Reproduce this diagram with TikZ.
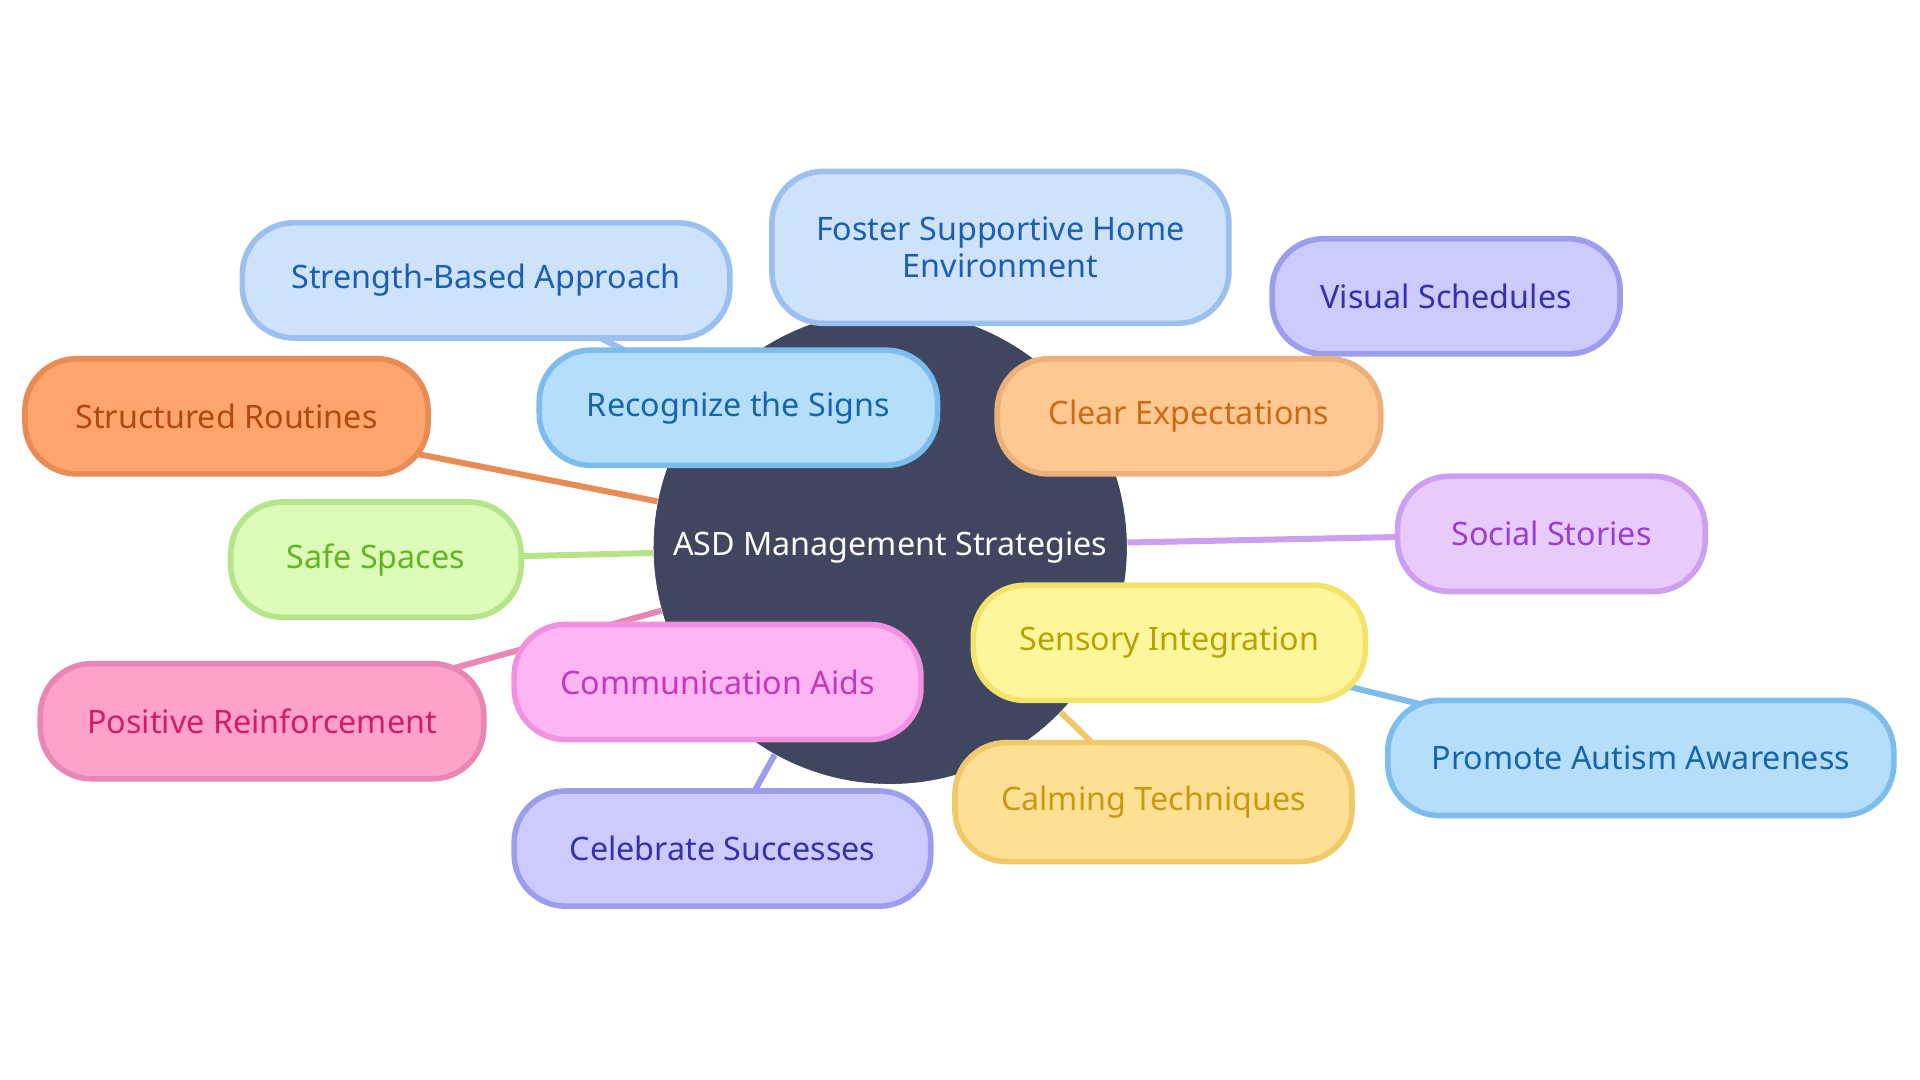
\documentclass[tikz,border=0pt]{standalone}
\usepackage{fontspec}
\setmainfont{Noto Sans}
\usetikzlibrary{shapes.geometric}

\definecolor{hubfill}{HTML}{404560}
\definecolor{blueA}{HTML}{CFE2FB}\definecolor{blueAd}{HTML}{9BBFEF}\definecolor{blueAt}{HTML}{1A5FB4}
\definecolor{blueB}{HTML}{B5DEFD}\definecolor{blueBd}{HTML}{7DBDEE}\definecolor{blueBt}{HTML}{1565A8}
\definecolor{violA}{HTML}{CBCBFD}\definecolor{violAd}{HTML}{9D9DED}\definecolor{violAt}{HTML}{3431B0}
\definecolor{orA}{HTML}{FEA46D}\definecolor{orAd}{HTML}{E98B55}\definecolor{orAt}{HTML}{B04A10}
\definecolor{orB}{HTML}{FEC891}\definecolor{orBd}{HTML}{EEB07A}\definecolor{orBt}{HTML}{CC6A1A}
\definecolor{grA}{HTML}{DCFAB8}\definecolor{grAd}{HTML}{B5E588}\definecolor{grAt}{HTML}{62B51E}
\definecolor{puA}{HTML}{E7CBFD}\definecolor{puAd}{HTML}{CCA0EE}\definecolor{puAt}{HTML}{9B3DD0}
\definecolor{yeA}{HTML}{FFF59D}\definecolor{yeAd}{HTML}{F2E46A}\definecolor{yeAt}{HTML}{B7A400}
\definecolor{piA}{HTML}{FDB6F3}\definecolor{piAd}{HTML}{F191E2}\definecolor{piAt}{HTML}{C23AB8}
\definecolor{piB}{HTML}{FEA2CC}\definecolor{piBd}{HTML}{E887B4}\definecolor{piBt}{HTML}{D11C6A}
\definecolor{goA}{HTML}{FEDF93}\definecolor{goAd}{HTML}{F0C96A}\definecolor{goAt}{HTML}{C79A10}

\tikzset{
  hubnode/.style={circle, fill=hubfill, text=white, minimum size=3.86cm, inner sep=0pt,
    font=\fontsize{7.5}{9}\selectfont},
  leaf/.style n args={3}{draw=#2, fill=#1, text=#3, line width=1.3pt,
    rounded corners=0.42cm, minimum height=0.94cm, align=center,
    font=\fontsize{7.5}{8.5}\selectfont, inner sep=0pt},
  link/.style={line width=1.4pt, draw=#1}
}

\begin{document}
\begin{tikzpicture}[x=0.01cm, y=-0.01cm]
    \useasboundingbox (0,0) rectangle (1568,882);
    % Hub
    \node[hubnode] (hub) at (727,447) {ASD Management Strategies};
    % Coordinates of the leaves
    \coordinate (strength) at (397,229);
    \coordinate (foster) at (817,202);
    \coordinate (visual) at (1181,242);
    \coordinate (routines) at (185,340);
    \coordinate (signs) at (603,333);
    \coordinate (clear) at (971,340);
    \coordinate (safe) at (307,457);
    \coordinate (social) at (1267,436);
    \coordinate (sensory) at (955,525);
    \coordinate (commu) at (586,557);
    \coordinate (positive) at (214,589);
    \coordinate (promote) at (1340,619);
    \coordinate (calming) at (942,655);
    \coordinate (celebrate) at (590,693);
    % Links
    \draw[link=blueAd] (signs) -- (strength);
    \draw[link=blueAd] (hub) -- (foster);
    \draw[link=violAd] (clear) -- (visual);
    \draw[link=orAd] (hub) -- (routines);
    \draw[link=blueBd] (hub) -- (signs);
    \draw[link=orBd] (hub) -- (clear);
    \draw[link=grAd] (hub) -- (safe);
    \draw[link=puAd] (hub) -- (social);
    \draw[link=yeAd] (hub) -- (sensory);
    \draw[link=piAd] (hub) -- (commu);
    \draw[link=piBd] (hub) -- (positive);
    \draw[link=blueBd] (sensory) -- (promote);
    \draw[link=goAd] (hub) -- (calming);
    \draw[link=violAd] (hub) -- (celebrate);
    % Hub again on top of links
    \node[hubnode] (hubtop) at (hub) {ASD Management Strategies};
    % Leaves
    \node[leaf={blueA}{blueAd}{blueAt}, minimum width=3.98cm] (n-strength) at (strength) {Strength-Based Approach};
    \node[leaf={blueA}{blueAd}{blueAt}, minimum width=3.73cm, minimum height=1.24cm] (n-foster) at (foster) {Foster Supportive Home\\Environment};
    \node[leaf={violA}{violAd}{violAt}, minimum width=2.84cm] (n-visual) at (visual) {Visual Schedules};
    \node[leaf={orA}{orAd}{orAt}, minimum width=3.29cm] (n-routines) at (routines) {Structured Routines};
    \node[leaf={blueB}{blueBd}{blueBt}, minimum width=3.25cm] (n-signs) at (signs) {Recognize the Signs};
    \node[leaf={orB}{orBd}{orBt}, minimum width=3.13cm] (n-clear) at (clear) {Clear Expectations};
    \node[leaf={grA}{grAd}{grAt}, minimum width=2.37cm] (n-safe) at (safe) {Safe Spaces};
    \node[leaf={puA}{puAd}{puAt}, minimum width=2.51cm] (n-social) at (social) {Social Stories};
    \node[leaf={yeA}{yeAd}{yeAt}, minimum width=3.20cm] (n-sensory) at (sensory) {Sensory Integration};
    \node[leaf={piA}{piAd}{piAt}, minimum width=3.32cm] (n-commu) at (commu) {Communication Aids};
    \node[leaf={piB}{piBd}{piBt}, minimum width=3.62cm] (n-positive) at (positive) {Positive Reinforcement};
    \node[leaf={blueB}{blueBd}{blueBt}, minimum width=4.13cm] (n-promote) at (promote) {Promote Autism Awareness};
    \node[leaf={goA}{goAd}{goAt}, minimum width=3.24cm, minimum height=0.97cm] (n-calming) at (calming) {Calming Techniques};
    \node[leaf={violA}{violAd}{violAt}, minimum width=3.40cm] (n-celebrate) at (celebrate) {Celebrate Successes};
\end{tikzpicture}
\end{document}
